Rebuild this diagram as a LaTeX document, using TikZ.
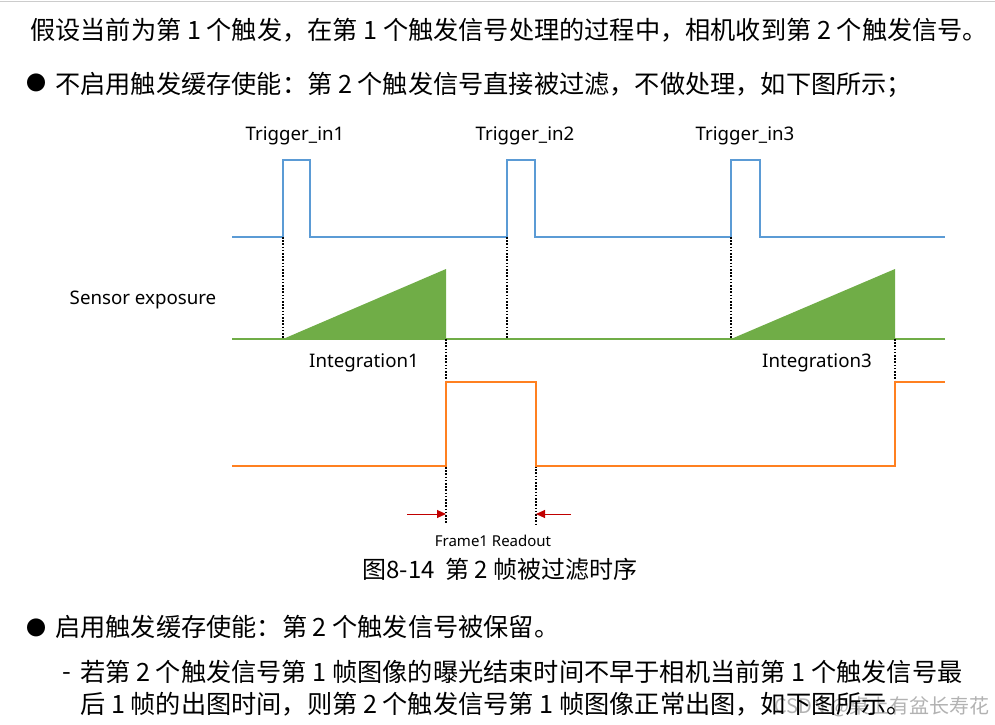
\documentclass[tikz,border=0pt]{standalone}
\usepackage{fontspec}
\setmainfont{Noto Sans CJK SC}
\newfontfamily\labelfont{Noto Sans}
\usetikzlibrary{arrows.meta,positioning}
\definecolor{trigblue}{RGB}{91,155,213}
\definecolor{expgreen}{RGB}{112,173,71}
\definecolor{readorange}{RGB}{255,128,32}
\definecolor{markred}{RGB}{192,0,0}

\begin{document}
\begin{tikzpicture}[x=1pt,y=-1pt,
    body/.style={anchor=base west,inner sep=0pt,font=\fontsize{25.2}{29}\selectfont},
    sig/.style={inner sep=0pt,font=\labelfont\fontsize{18.7}{22}\selectfont},
    guide/.style={black,line width=1.3pt,dash pattern=on 1.6pt off 1.6pt}]
  \useasboundingbox (0,0) rectangle (995,724);
  \draw[black!20,line width=1.5pt] (0,1.5) -- (995,1.5);
  % text above
  \node[body] (intro) at (30,39) {假设当前为第 1 个触发，在第 1 个触发信号处理的过程中，相机收到第 2 个触发信号。};
  \node[body,anchor=center,font=\fontsize{20}{24}\selectfont] (dota) at (36,83) {●};
  \node[body] (offcase) at (55,93) {不启用触发缓存使能：第 2 个触发信号直接被过滤，不做处理，如下图所示；};
  % trigger input
  \draw[trigblue,line width=1.2pt] (232,237) -| (283,160) -| (310,237) -| (507,160) -| (535,237)
    -| (731,160) -| (760,237) -- (945,237);
  \node[sig] (trig1) at (295,136) {Trigger\_in1};
  \node[sig] (trig2) at (525,136) {Trigger\_in2};
  \node[sig] (trig3) at (745,136) {Trigger\_in3};
  % exposure
  \draw[expgreen,line width=1.5pt] (232,339) -- (945,339);
  \fill[expgreen] (283,339) -- (446,269) -- (446,339) -- cycle;
  \fill[expgreen] (731,339) -- (895,269) -- (895,339) -- cycle;
  \node[sig] (sensor) at (143,300) {Sensor exposure};
  \node[sig] (int1) at (364,363) {Integration1};
  \node[sig] (int3) at (817,363) {Integration3};
  \foreach \gx/\ya/\yb in {283/237/339,507/237/339,731/237/339,446/339/524,536/466/524,895/339/382}
    \draw[guide] (\gx,\ya) -- (\gx,\yb);
  % readout
  \draw[readorange,line width=1.5pt] (232,466) -| (446,382) -| (536,466) -| (895,382) -- (945,382);
  \coordinate (ra) at (407,514);
  \coordinate (ea) at (446,514);
  \coordinate (rb) at (571,514);
  \coordinate (eb) at (536,514);
  \draw[markred,line width=1pt,-{Triangle[length=9pt,width=8pt]}] (ra) -- (ea);
  \draw[markred,line width=1pt,-{Triangle[length=9pt,width=8pt]}] (rb) -- (eb);
  \node[sig,font=\labelfont\fontsize{15}{18}\selectfont] (readout) at (493,541) {Frame1 Readout};
  \node[font=\fontsize{24}{28}\selectfont,inner sep=0pt] (caption) at (500,569) {图8-14~~第 2 帧被过滤时序};
  % text below
  \node[body,anchor=center,font=\fontsize{20}{24}\selectfont] (dotb) at (36,628) {●};
  \node[body] (oncase) at (55,636) {启用触发缓存使能：第 2 个触发信号被保留。};
  \node[body,anchor=base] (dash) at (67,680) {-};
  \node[body] (rulea) at (80,681) {若第 2 个触发信号第 1 帧图像的曝光结束时间不早于相机当前第 1 个触发信号最};
  \node[body] (ruleb) at (80,713) {后 1 帧的出图时间，则第 2 个触发信号第 1 帧图像正常出图，如下图所示。};
  \node[anchor=base east,inner sep=0pt,text=black,text opacity=0.3,font=\fontsize{20}{24}\selectfont] (mark) at (990,713) {CSDN @桌上有盆长寿花};
\end{tikzpicture}
\end{document}
